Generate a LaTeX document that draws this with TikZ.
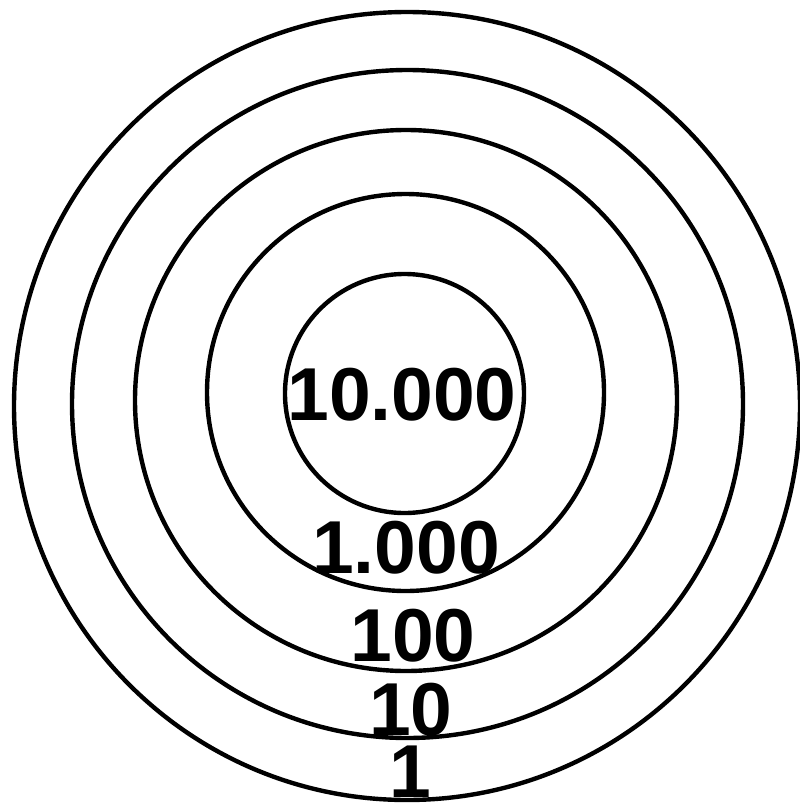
\documentclass[tikz,border=0pt]{standalone}
\usepackage{fontspec}
\setmainfont{Liberation Sans}
\usepackage{tikz}
\definecolor{ringBlack}{RGB}{0, 0, 0}

\begin{document}
\begin{tikzpicture}[x=1pt,y=-1pt]
        \useasboundingbox (0,0) rectangle (800,806);
        \tikzset{ring/.style={ringBlack, line width=4.4pt},
                 level/.style={inner sep=0pt, font=\fontsize{75}{75}\selectfont\bfseries}}
        \draw[ring] (407,406) ellipse (393 and 394);
        \draw[ring] (407.5,404) ellipse (335.5 and 334);
        \draw[ring] (406,400.5) ellipse (271 and 270.5);
        \draw[ring] (405.5,392.5) ellipse (198.5 and 198.5);
        \draw[ring] (404.5,393.5) ellipse (119.5 and 119.5);
        \node[level] (tenthousand) at (402,395) {10.000};
        \node[level] (thousand) at (406,548) {1.000};
        \node[level] (hundred) at (413,636) {100};
        \node[level] (ten) at (411,710) {10};
        \node[level] (one) at (410,772) {1};
      \end{tikzpicture}
\end{document}
